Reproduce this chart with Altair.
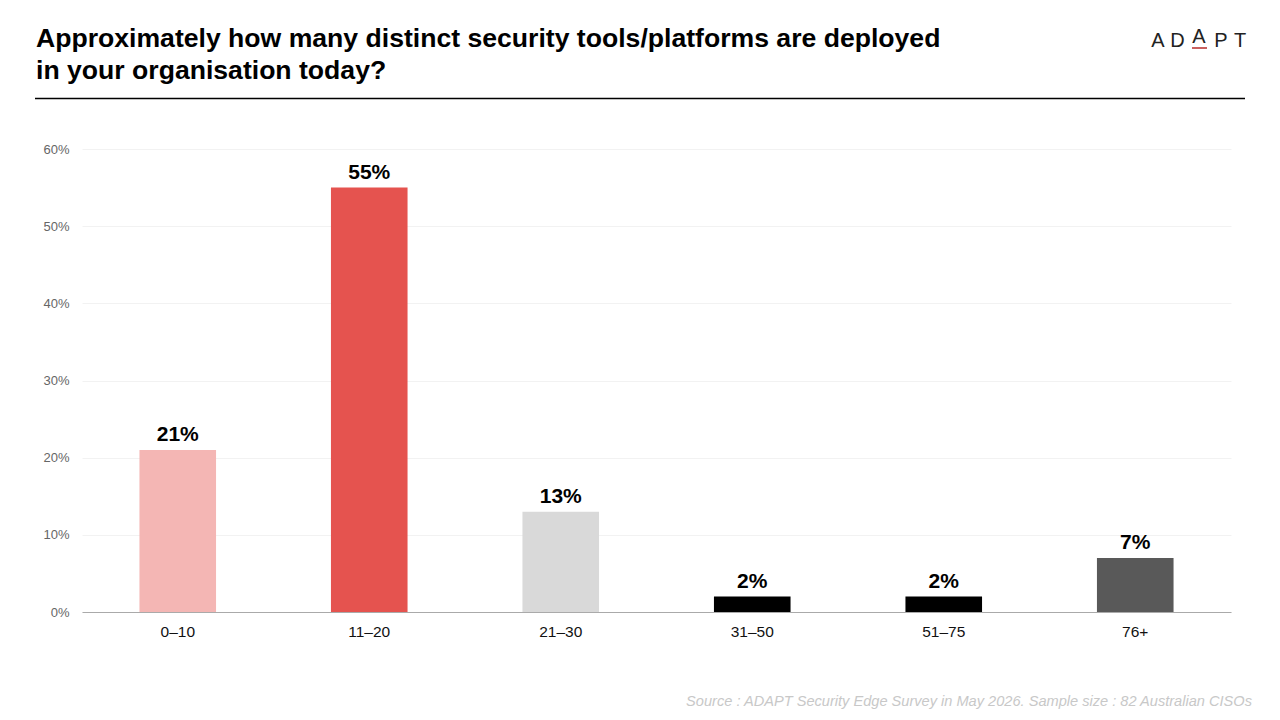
import altair as alt
import pandas as pd

categories = ["0–10", "11–20", "21–30", "31–50", "51–75", "76+"]
values = [21, 55, 13, 2, 2, 7]
colors = ["#f4b6b4", "#e5534f", "#d9d9d9", "#000000", "#000000", "#595959"]

title_lines = [
    "Approximately how many distinct security tools/platforms are deployed",
    "in your organisation today?",
]
source_text = "Source : ADAPT Security Edge Survey in May 2026. Sample size : 82 Australian CISOs"
logo_letters = ["A", "D", "A", "P", "T"]

df = pd.DataFrame({"cat": categories, "value": values, "color": colors})
df["label"] = [f"{v}%" for v in values]

FONT = "Liberation Sans"
W, H = 1149, 463

x = alt.X("cat:N", sort=categories, title=None,
          scale=alt.Scale(paddingInner=0.6, paddingOuter=0.3),
          axis=alt.Axis(labelAngle=0, labelFont=FONT, labelFontSize=15.5, labelColor="#111",
                        labelPadding=12, ticks=False, domainColor="#aaaaaa", domainWidth=1))
y = alt.Y("value:Q", title=None,
          scale=alt.Scale(domain=[0, 60]),
          axis=alt.Axis(values=[0, 10, 20, 30, 40, 50, 60], labelExpr="datum.value + '%'",
                        labelFont=FONT, labelFontSize=13, labelColor="#666",
                        labelPadding=13, ticks=False, domain=False,
                        gridColor="#f2f2f2", gridWidth=1))

bars = alt.Chart(df).mark_bar().encode(x=x, y=y, color=alt.Color("color:N", scale=None))
labels = alt.Chart(df).mark_text(font=FONT, fontSize=21, fontWeight="bold", color="#000",
                                 baseline="alphabetic", dy=-9).encode(
    x=alt.X("cat:N", sort=categories), y="value:Q", text="label:N")

one = alt.Data(values=[{}])

def txt(text, xv, yv, **kw):
    return alt.Chart(one).mark_text(text=text, font=FONT, baseline="alphabetic", **kw).encode(
        x=alt.value(xv), y=alt.value(yv))

ox, oy = 82, 149  # page position of plot origin

deco = [
    txt(title_lines[0], 36 - ox, 47 - oy, align="left", fontSize=26.6, fontWeight="bold", color="#000"),
    txt(title_lines[1], 36 - ox, 78.5 - oy, align="left", fontSize=26.6, fontWeight="bold", color="#000"),
    alt.Chart(one).mark_rule(color="#000", strokeWidth=1.3).encode(
        x=alt.value(35 - ox), x2=alt.value(1245 - ox), y=alt.value(98.5 - oy)),
    txt(source_text, 1252 - ox, 706 - oy, align="right", fontSize=14.6, fontStyle="italic", color="#c8c8c8"),
]
logo_x = [1158, 1177.5, 1199, 1221, 1240]
logo_y = [47, 47, 43, 47, 47]
for l, lx, ly in zip(logo_letters, logo_x, logo_y):
    deco.append(txt(l, lx - ox, ly - oy, align="center", fontSize=20, color="#222"))
deco.append(alt.Chart(one).mark_rule(color="#c9605e", strokeWidth=2).encode(
    x=alt.value(1192 - ox), x2=alt.value(1207 - ox), y=alt.value(48 - oy)))

chart = alt.layer(bars, labels, *deco).properties(
    width=W, height=H,
    autosize=alt.AutoSizeParams(type="none"),
    padding={"left": ox - 8, "top": oy - 8, "right": 1264 - (ox - 8) - W, "bottom": 704 - (oy - 8) - H},
).configure(background="white").configure_view(stroke=None)

chart.save("out.html", embed_options={"renderer": "svg", "actions": False})
